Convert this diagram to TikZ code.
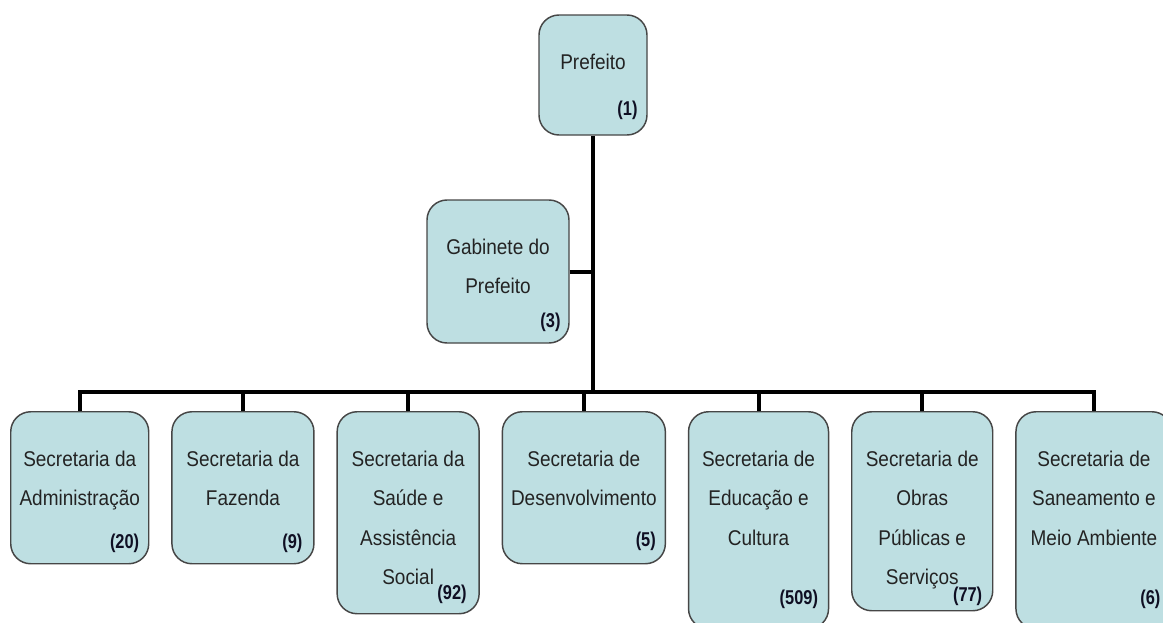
\documentclass[tikz,border=0pt]{standalone}
\usepackage{fontspec}
\usepackage{tikz}
\usetikzlibrary{positioning,calc}

\newfontfamily\boxfont[FakeStretch=0.89]{Liberation Sans}
\newfontfamily\countfont[FakeStretch=0.82]{Liberation Sans}

\definecolor{boxfill}{RGB}{190,223,226}
\definecolor{boxline}{RGB}{70,70,70}
\definecolor{txtgray}{RGB}{35,35,35}
\definecolor{numdark}{RGB}{15,15,35}

\tikzset{
	unit/.style={rectangle, draw=boxline, fill=boxfill, line width=1.1pt, rounded corners=15pt, inner sep=0pt},
	txt/.style={font={\boxfont\fontsize{16pt}{29.6pt}\selectfont}, text=txtgray, align=center, inner sep=0pt},
	num/.style={font={\countfont\bfseries\fontsize{15pt}{16pt}\selectfont}, text=numdark, inner sep=0pt, anchor=east},
	conn/.style={line width=3pt, draw=black}
}

\begin{document}
\begin{tikzpicture}[x=0.75pt, y=0.75pt]

	\useasboundingbox (0,0) rectangle (1163,-622);
	\clip (0,0) rectangle (1163,-622);

	\node[unit, minimum width=81pt, minimum height=90pt] (pref) at (593,-75) {};
	\node[unit, minimum width=106.5pt, minimum height=107.25pt] (gab) at (498,-271.5) {};

	\node[unit, minimum width=103.5pt, minimum height=114pt, anchor=north west] (b1) at (10,-411) {};
	\node[unit, minimum width=106.5pt, minimum height=114pt, right=16.3pt of b1.north east, anchor=north west] (b2) {};
	\node[unit, minimum width=106.5pt, minimum height=151.5pt, right=16.3pt of b2.north east, anchor=north west] (b3) {};
	\node[unit, minimum width=122.25pt, minimum height=114pt, right=16.3pt of b3.north east, anchor=north west] (b4) {};
	\node[unit, minimum width=105pt, minimum height=162.75pt, right=16.3pt of b4.north east, anchor=north west] (b5) {};
	\node[unit, minimum width=105.75pt, minimum height=149.25pt, right=16.3pt of b5.north east, anchor=north west] (b6) {};
	\node[unit, minimum width=117pt, minimum height=162.75pt, right=16.3pt of b6.north east, anchor=north west] (b7) {};

	% texts
	\node[txt, below=29.5pt of pref.north] (tpref) {Prefeito};
	\node[txt, below=29.5pt of gab.north] (tgab) {Gabinete do\\Prefeito};
	\node[txt, below=29.5pt of b1.north] (t1) {Secretaria da\\Administração};
	\node[txt, below=29.5pt of b2.north] (t2) {Secretaria da\\Fazenda};
	\node[txt, below=29.5pt of b3.north] (t3) {Secretaria da\\Saúde e\\Assistência\\Social};
	\node[txt, below=29.5pt of b4.north] (t4) {Secretaria de\\Desenvolvimento};
	\node[txt, below=29.5pt of b5.north] (t5) {Secretaria de\\Educação e\\Cultura};
	\node[txt, below=29.5pt of b6.north] (t6) {Secretaria de\\Obras\\Públicas e\\Serviços};
	\node[txt, below=29.5pt of b7.north] (t7) {Secretaria de\\Saneamento e\\Meio Ambiente};

	% counts
	\node[num] (npref) at ([shift={(-10,25)}]pref.south east) {(1)};
	\node[num] (ngab) at ([shift={(-9,21)}]gab.south east) {(3)};
	\node[num] (n1) at ([shift={(-10,21)}]b1.south east) {(20)};
	\node[num] (n2) at ([shift={(-12,21)}]b2.south east) {(9)};
	\node[num] (n3) at ([shift={(-13,20)}]b3.south east) {(92)};
	\node[num] (n4) at ([shift={(-10,23)}]b4.south east) {(5)};
	\node[num] (n5) at ([shift={(-11,30)}]b5.south east) {(509)};
	\node[num] (n6) at ([shift={(-11,15)}]b6.south east) {(77)};
	\node[num] (n7) at ([shift={(-12,30)}]b7.south east) {(6)};

	% connectors
	\coordinate (hub) at (593,-392);
	\draw[conn] (pref.south) -- (hub);
	\draw[conn] (gab.east) -- (gab.east -| hub);
	\draw[conn] (hub) -| (b1.north);
	\draw[conn] (hub) -| (b2.north);
	\draw[conn] (hub) -| (b3.north);
	\draw[conn] (hub) -| (b4.north);
	\draw[conn] (hub) -| (b5.north);
	\draw[conn] (hub) -| (b6.north);
	\draw[conn] (hub) -| (b7.north);

\end{tikzpicture}
\end{document}
